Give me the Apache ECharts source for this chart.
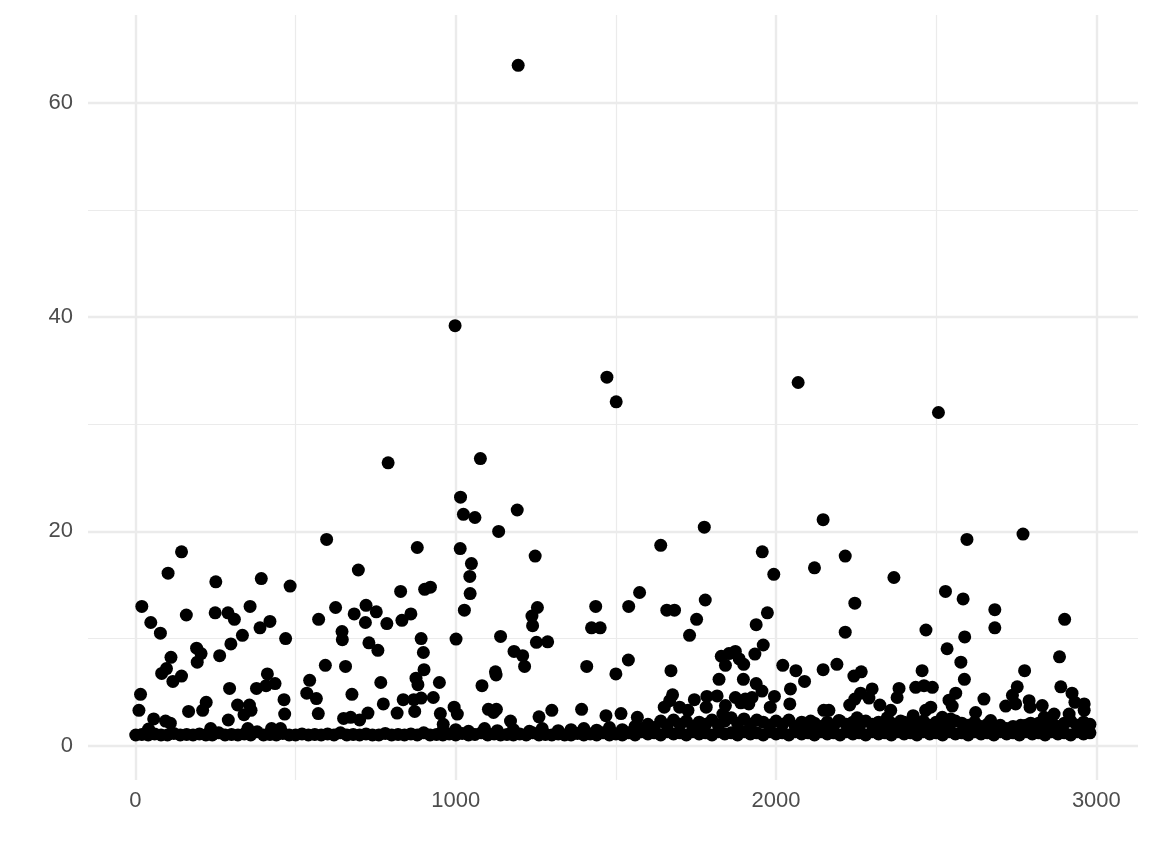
<!DOCTYPE html>
<html>
<head>
<meta charset="utf-8">
<script src="https://cdn.jsdelivr.net/npm/echarts@6/dist/echarts.min.js"></script>
<style>
html,body{margin:0;padding:0;background:#fff;}
#chart{width:1152px;height:865px;}
</style>
</head>
<body>
<div id="chart"></div>
<script>
// Tick labels
var xMajorTicks = [0, 1000, 2000, 3000];
var xMinorTicks = [500, 1500, 2500];
var yMajorTicks = [0, 20, 40, 60];
var yMinorTicks = [10, 30, 50];

// High outliers
var topPoints = [[998,39.2],[1195,63.5],[1472,34.4],[1501,32.1],[2069,33.9],[2507,31.1]];

// Scattered points, x 0-1000
var leftPoints = [[789,26.4],[597,19.25],[880,18.5],[144,18.1],[102,16.1],[696,16.4],[251,15.3],[393,15.6],[483,14.9],[828,14.4],[903,14.6],[921,14.8],[20,13.0],[48,11.5],[78,10.5],[159,12.2],[249,12.4],[289,12.4],[309,11.8],[358,13.0],[389,11.0],[420,11.6],[469,10.0],[572,11.8],[625,12.9],[683,12.3],[720,13.1],[718,11.5],[752,12.5],[785,11.4],[832,11.7],[860,12.3],[645,10.65],[646,9.9],[729,9.6],[757,8.9],[892,10.0],[899,8.7],[901,7.1],[949,5.9],[876,6.3],[882,5.7],[930,4.5],[892,4.45],[869,4.3],[836,4.3],[872,3.2],[817,3.05],[774,3.9],[766,5.9],[726,3.05],[676,4.8],[656,7.4],[593,7.5],[571,3.0],[544,6.1],[535,4.9],[565,4.4],[650,2.55],[672,2.65],[700,2.4],[952,3.0],[961,2.0],[111,8.25],[97,7.2],[82,6.75],[117,6.0],[144,6.5],[191,9.1],[205,8.6],[193,7.8],[263,8.4],[298,9.5],[334,10.3],[294,5.35],[378,5.35],[408,5.6],[412,6.7],[436,5.8],[464,4.3],[466,2.95],[319,3.8],[356,3.8],[361,3.3],[339,2.9],[221,4.05],[210,3.3],[166,3.2],[16,4.8],[11,3.3],[57,2.5],[94,2.3],[109,2.1],[290,2.4],[235,1.6],[351,1.6],[425,1.6],[453,1.6],[41,1.55]];

// Scattered points, x 1000-2080
var midPoints = [[1077,26.8],[1015,23.2],[1024,21.6],[1060,21.3],[1192,22.0],[1134,20.0],[1014,18.4],[1248,17.7],[1049,17.0],[1044,15.8],[1045,14.2],[1027,12.65],[1001,9.95],[1140,10.2],[1182,8.8],[1209,8.4],[1215,7.4],[1255,12.9],[1238,12.1],[1240,11.2],[1252,9.65],[1287,9.7],[1124,6.9],[1126,6.6],[1082,5.6],[995,3.6],[1005,2.95],[1102,3.4],[1127,3.4],[1118,3.1],[1171,2.3],[1260,2.7],[1300,3.3],[1393,3.4],[1469,2.8],[1516,3.0],[1567,2.65],[1409,7.4],[1424,11.0],[1451,11.0],[1437,13.0],[1500,6.7],[1539,8.0],[1540,13.0],[1574,14.3],[1640,18.7],[1659,12.65],[1683,12.65],[1672,7.0],[1677,4.75],[1668,4.2],[1651,3.6],[1776,20.4],[1779,13.6],[1752,11.8],[1730,10.3],[1745,4.3],[1699,3.6],[1725,3.3],[1784,4.6],[1816,4.65],[1782,3.6],[1822,6.2],[1829,8.35],[1842,7.5],[1853,8.6],[1873,8.8],[1885,8.1],[1899,7.6],[1898,6.2],[1934,8.55],[1960,9.4],[1938,11.3],[1973,12.4],[1957,18.1],[1993,16.0],[1938,5.8],[1956,5.1],[1995,4.6],[2021,7.5],[2062,7.0],[2045,5.3],[2043,3.9],[1842,3.75],[1873,4.5],[1904,4.35],[1925,4.5],[1982,3.6],[1834,2.95],[1890,4.0],[1915,3.9]];

// Scattered points, x 2080-3000
var rightPoints = [[2147,21.1],[2216,17.7],[2120,16.6],[2368,15.7],[2246,13.3],[2216,10.6],[2468,10.8],[2596,19.25],[2771,19.75],[2529,14.4],[2584,13.7],[2683,12.7],[2683,11.0],[2901,11.8],[2589,10.15],[2534,9.05],[2577,7.8],[2588,6.2],[2885,8.3],[2776,7.0],[2889,5.5],[2924,4.9],[2933,4.05],[2962,3.9],[2753,5.5],[2738,4.7],[2717,3.7],[2748,3.9],[2790,4.2],[2793,3.6],[2831,3.75],[2868,2.95],[2915,2.95],[2962,3.3],[2649,4.35],[2623,3.1],[2456,7.0],[2436,5.45],[2462,5.6],[2488,5.45],[2561,4.9],[2540,4.25],[2550,3.7],[2483,3.6],[2467,3.3],[2428,2.8],[2384,5.35],[2378,4.5],[2358,3.3],[2324,3.8],[2300,5.3],[2290,4.45],[2264,4.9],[2246,4.35],[2230,3.8],[2266,6.9],[2243,6.5],[2190,7.6],[2147,7.1],[2089,6.0],[2149,3.3],[2165,3.3],[2196,2.35],[2253,2.6],[2108,2.3],[2347,2.6],[2389,2.3],[2519,2.65],[2545,2.5],[2670,2.35],[2764,1.9],[2795,2.1],[2837,2.65],[2962,1.9]];

// Dense band of values near 1
var bandLow = [[1,1.0],[20,1.05],[40,1.0],[60,1.1],[80,1.0],[100,1.0],[120,1.15],[140,1.0],[160,1.05],[180,1.0],[200,1.1],[220,1.0],[240,1.0],[260,1.2],[280,1.0],[300,1.05],[320,1.0],[340,1.1],[360,1.0],[380,1.3],[400,1.0],[420,1.05],[440,1.0],[460,1.15],[480,1.0],[500,1.0],[520,1.1],[540,1.0],[560,1.05],[580,1.0],[600,1.1],[620,1.0],[640,1.2],[660,1.0],[680,1.05],[700,1.0],[720,1.1],[740,1.0],[760,1.0],[780,1.15],[800,1.0],[820,1.05],[840,1.0],[860,1.1],[880,1.0],[900,1.2],[920,1.0],[940,1.05],[960,1.0],[980,1.1],[1000,1.0],[1020,1.15],[1040,1.0],[1060,1.05],[1080,1.2],[1100,1.0],[1120,1.1],[1140,1.0],[1160,1.05],[1180,1.0],[1200,1.1],[1220,1.0],[1240,1.2],[1260,1.0],[1280,1.05],[1300,1.0],[1320,1.1],[1340,1.0],[1360,1.0],[1380,1.15],[1400,1.0],[1420,1.1],[1440,1.0],[1460,1.2],[1480,1.0],[1500,1.1],[1520,1.0],[1540,1.2],[1560,1.0],[1580,1.3],[1600,1.1],[1620,1.2],[1640,1.0],[1660,1.3],[1680,1.1],[1700,1.2],[1720,1.0],[1740,1.3],[1760,1.1],[1780,1.2],[1800,1.0],[1820,1.3],[1840,1.1],[1860,1.2],[1880,1.0],[1900,1.3],[1920,1.1],[1940,1.2],[1960,1.0],[1980,1.3],[2000,1.1],[2020,1.2],[2040,1.0],[2060,1.3],[2080,1.1],[2100,1.2],[2120,1.0],[2140,1.3],[2160,1.1],[2180,1.2],[2200,1.0],[2220,1.3],[2240,1.1],[2260,1.2],[2280,1.0],[2300,1.3],[2320,1.1],[2340,1.2],[2360,1.0],[2380,1.3],[2400,1.1],[2420,1.2],[2440,1.0],[2460,1.3],[2480,1.1],[2500,1.2],[2520,1.0],[2540,1.3],[2560,1.1],[2580,1.2],[2600,1.0],[2620,1.3],[2640,1.1],[2660,1.2],[2680,1.0],[2700,1.3],[2720,1.1],[2740,1.2],[2760,1.0],[2780,1.3],[2800,1.1],[2820,1.2],[2840,1.0],[2860,1.3],[2880,1.1],[2900,1.2],[2920,1.0],[2940,1.3],[2960,1.1],[2980,1.2]];

// Upper layer of the dense band
var bandMid = [[960,1.4],[1000,1.5],[1040,1.35],[1090,1.6],[1130,1.4],[1180,1.5],[1230,1.35],[1270,1.6],[1320,1.4],[1360,1.5],[1400,1.6],[1440,1.45],[1480,1.7],[1520,1.5],[1560,1.8],[1580,1.6],[1600,2.0],[1620,1.7],[1640,2.3],[1660,1.9],[1680,2.4],[1700,2.0],[1720,2.3],[1740,1.8],[1760,2.2],[1780,2.0],[1800,2.4],[1820,1.9],[1840,2.3],[1860,2.6],[1880,2.1],[1900,2.5],[1920,2.0],[1940,2.4],[1960,2.2],[1980,1.9],[2000,2.3],[2020,2.0],[2040,2.4],[2060,1.8],[2080,2.2],[2100,1.9],[2120,2.1],[2140,1.8],[2160,2.2],[2180,1.9],[2200,2.3],[2220,2.0],[2240,2.2],[2260,1.8],[2280,2.3],[2300,2.0],[2320,2.2],[2340,1.9],[2360,2.1],[2380,1.8],[2400,2.2],[2420,2.0],[2440,2.1],[2460,2.3],[2480,1.9],[2500,2.2],[2520,2.0],[2540,1.8],[2560,2.3],[2580,2.1],[2600,1.9],[2620,2.2],[2640,1.8],[2660,2.0],[2680,1.7],[2700,1.9],[2720,1.6],[2740,1.8],[2760,1.7],[2780,1.9],[2800,1.8],[2820,2.1],[2840,1.9],[2860,2.2],[2880,1.8],[2900,2.1],[2920,2.3],[2940,1.9],[2960,2.2],[2980,2.0]];

var allPoints = [].concat(bandLow, bandMid, leftPoints, midPoints, rightPoints, topPoints);

var textColor = '#4d4d4d';
var gridColor = '#ebebeb';
var fontFamily = '"Liberation Sans", Arial, Helvetica, sans-serif';
function plainLabel(v) { return String(v); }

var chart = echarts.init(document.getElementById('chart'), null, {renderer: 'canvas'});
chart.setOption({
  animation: false,
  backgroundColor: '#ffffff',
  grid: {left: 88, right: 14, top: 15, bottom: 85, containLabel: false},
  xAxis: [
    {
      type: 'value', min: -148, max: 3130,
      axisLine: {show: false},
      axisTick: {show: false, customValues: xMajorTicks},
      axisLabel: {customValues: xMajorTicks, formatter: plainLabel, color: textColor, fontSize: 22, fontFamily: fontFamily, margin: 10},
      splitLine: {show: true, lineStyle: {color: gridColor, width: 2.4}}
    },
    {
      type: 'value', min: -148, max: 3130, position: 'top',
      axisLine: {show: false},
      axisTick: {show: false, customValues: xMinorTicks},
      axisLabel: {show: false, customValues: xMinorTicks},
      splitLine: {show: true, lineStyle: {color: gridColor, width: 1.2}}
    }
  ],
  yAxis: [
    {
      type: 'value', min: -3.2, max: 68.2,
      axisLine: {show: false},
      axisTick: {show: false, customValues: yMajorTicks},
      axisLabel: {customValues: yMajorTicks, formatter: plainLabel, color: textColor, fontSize: 22, fontFamily: fontFamily, margin: 15},
      splitLine: {show: true, lineStyle: {color: gridColor, width: 2.4}}
    },
    {
      type: 'value', min: -3.2, max: 68.2, position: 'right',
      axisLine: {show: false},
      axisTick: {show: false, customValues: yMinorTicks},
      axisLabel: {show: false, customValues: yMinorTicks},
      splitLine: {show: true, lineStyle: {color: gridColor, width: 1.2}}
    }
  ],
  series: [{
    type: 'scatter',
    xAxisIndex: 0, yAxisIndex: 0,
    symbol: 'circle',
    symbolSize: 13,
    itemStyle: {color: '#000000', opacity: 1},
    data: allPoints
  }]
});
</script>
</body>
</html>
